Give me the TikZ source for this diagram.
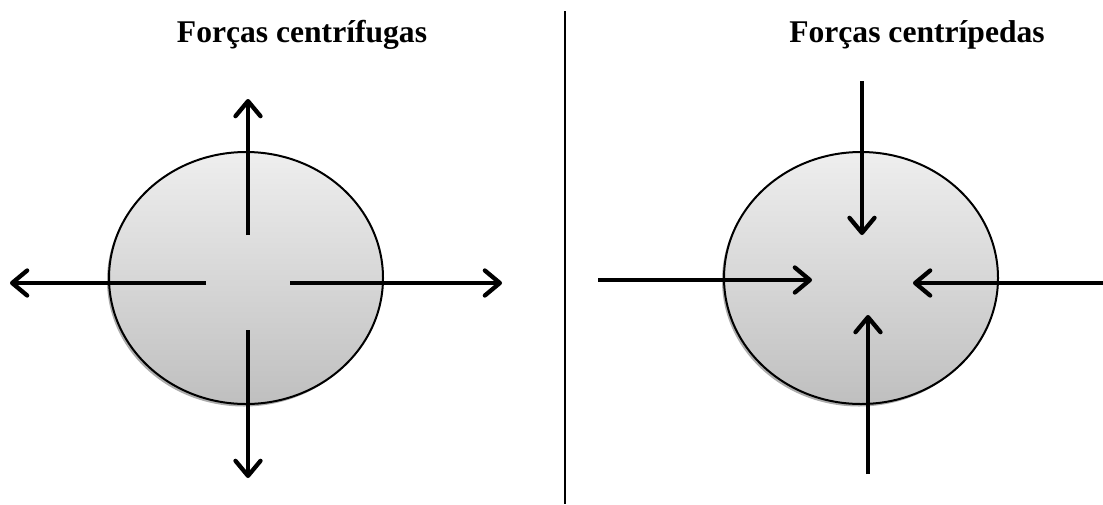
\documentclass[tikz,border=0pt]{standalone}
\usepackage{fontspec}
\setmainfont{Liberation Serif}
\usetikzlibrary{arrows.meta,shapes.geometric}
\begin{document}
\begin{tikzpicture}[x=1pt,y=-1pt,
  ball/.style={draw=black,line width=2pt,ellipse,inner sep=0pt,
    minimum width=274pt,minimum height=252pt,
    top color=gray!13,bottom color=gray!50},
  ballshadow/.style={fill=gray!65,ellipse,inner sep=0pt,
    minimum width=274pt,minimum height=252pt},
  force/.style={line width=4.3pt,
    -{Straight Barb[length=15pt,width=25pt,line cap=round,line join=round]}},
  title/.style={font=\bfseries\fontsize{31.6}{36}\selectfont,anchor=base,inner sep=0pt}]
\useasboundingbox (0,0) rectangle (1103,504);
% titles
\node[title] (tL) at (302,42) {Forças centrífugas};
\node[title] (tR) at (917,42) {Forças centrípedas};
% divider
\coordinate (d1) at (565,11);
\coordinate (d2) at (565,504);
\draw[line width=2.2pt] (d1) -- (d2);
% left ball
\node[ballshadow] (Ls) at (244,280.5) {};
\node[ball] (L) at (246,278) {};
\coordinate (Lns) at (248,235);
\coordinate (Lne) at (248,99);
\coordinate (Lss) at (248,330);
\coordinate (Lse) at (248,478);
\coordinate (Lws) at (206,283);
\coordinate (Lwe) at (10,283);
\coordinate (Les) at (290,283);
\coordinate (Lee) at (502,283);
\draw[force] (Lns) -- (Lne);
\draw[force] (Lss) -- (Lse);
\draw[force] (Lws) -- (Lwe);
\draw[force] (Les) -- (Lee);
% right ball
\node[ballshadow] (Rs) at (859,280.5) {};
\node[ball] (R) at (861,278) {};
\coordinate (Rns) at (862,81);
\coordinate (Rne) at (862,235);
\coordinate (Rss) at (868,474);
\coordinate (Rse) at (868,315);
\coordinate (Rws) at (598,280);
\coordinate (Rwe) at (812,280);
\coordinate (Res) at (1103,283);
\coordinate (Ree) at (913,283);
\draw[force] (Rns) -- (Rne);
\draw[force] (Rss) -- (Rse);
\draw[force] (Rws) -- (Rwe);
\draw[force] (Res) -- (Ree);
\end{tikzpicture}
\end{document}
